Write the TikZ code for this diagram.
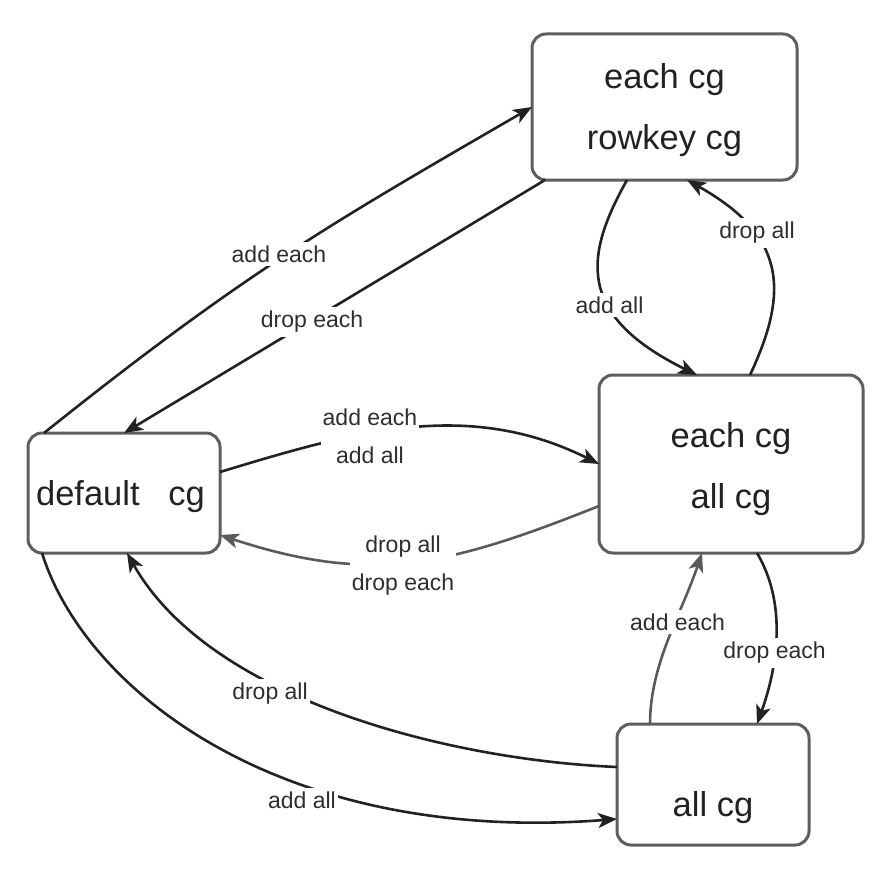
\documentclass[tikz,border=0pt]{standalone}
\usepackage{fontspec}
\setmainfont{Liberation Sans}
\usetikzlibrary{arrows.meta,calc}
\definecolor{ink}{HTML}{222222}
\definecolor{frame}{HTML}{5E5E5E}
\definecolor{soft}{HTML}{5A5A5A}
\definecolor{lbl}{HTML}{2E2E2E}

\begin{document}
\begin{tikzpicture}[x=1pt,y=-1pt,
  state/.style={draw=frame, line width=3pt, rounded corners=14pt, fill=white,
    outer sep=0pt, inner sep=0pt},
  statetext/.style={text=ink, font=\fontsize{34.5}{61}\selectfont,
    inner sep=0pt, align=center},
  conn/.style={draw=ink, line width=2.6pt,
    -{Stealth[length=19pt,width=15pt,inset=5pt]}},
  connsoft/.style={conn, draw=soft},
  edgelabel/.style={fill=white, text=lbl, font=\fontsize{23}{38}\selectfont,
    inner xsep=2pt, inner ysep=4pt, align=center}
]
\useasboundingbox (0,0) rectangle (890,888);

% states
\node[state, minimum width=265pt, minimum height=146pt,
  label={[name=toptext, statetext, yshift=-3pt]center:each cg\\rowkey cg}] (top) at (664.5,107) {};
\node[state, minimum width=192pt, minimum height=120pt,
  label={[name=deftext, statetext, xshift=-3.5pt, yshift=-4pt]center:default\ \ \ cg}] (def) at (124,493) {};
\node[state, minimum width=264pt, minimum height=178pt,
  label={[name=midtext, statetext, yshift=-5pt]center:each cg\\all cg}] (mid) at (731,464) {};
\node[state, minimum width=192pt, minimum height=121pt,
  label={[name=alltext, statetext, yshift=-23pt]center:all cg}] (all) at (713,784.5) {};

% transitions
\draw[conn] ([xshift=16pt]def.north west) .. controls (244,273) and (330,224) .. (top.west);
\draw[conn] ([xshift=13pt]top.south west) -- (def.north);
\draw[conn] ([yshift=21pt]def.east) .. controls (352,432) and (467,398) .. (mid.west);
\draw[connsoft] ([yshift=-42pt]mid.west) .. controls (448,566) and (372,585) .. ([yshift=-42pt]def.east);
\draw[conn] ([xshift=-37.5pt]top.south) .. controls (585,255) and (575,315) .. ([xshift=-34pt]mid.north);
\draw[conn] ([xshift=19pt]mid.north) .. controls (790,290) and (785,235) .. ([xshift=22.5pt]top.south);
\draw[conn] ([xshift=26pt]mid.south) .. controls (785,600) and (780,660) .. ([xshift=44pt]all.north);
\draw[connsoft] ([xshift=-63pt]all.north) .. controls (650,664) and (681,615) .. ([xshift=-29pt]mid.south);
\draw[conn] ([yshift=17.5pt]all.west) .. controls (450,760) and (210,700) .. ([xshift=3pt]def.south);
\draw[conn] ([xshift=14pt]def.south west) .. controls (85,690) and (280,845) .. ([yshift=-34.5pt]all.west);

% transition labels
\node[edgelabel] (l1) at (279,254) {add each};
\node[edgelabel] (l2) at (312,322) {drop each};
\node[edgelabel] (l3) at (370,436) {add each\\add all};
\node[edgelabel] (l4) at (403,566) {drop all\\drop each};
\node[edgelabel] (l5) at (609.5,305) {add all};
\node[edgelabel] (l6) at (757,233) {drop all};
\node[edgelabel] (l7) at (774.5,653) {drop each};
\node[edgelabel] (l8) at (677.5,622) {add each};
\node[edgelabel] (l9) at (270,694) {drop all};
\node[edgelabel] (l10) at (302,800) {add all};
\end{tikzpicture}
\end{document}
